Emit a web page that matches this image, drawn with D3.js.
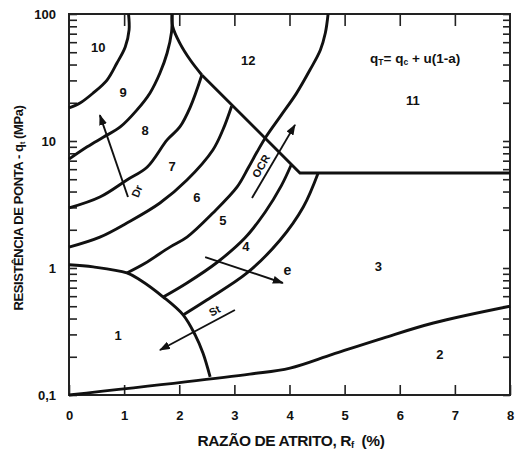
<!DOCTYPE html>
<html>
<head>
<meta charset="utf-8">
<script src="https://cdn.jsdelivr.net/npm/d3@7/dist/d3.min.js"></script>
<style>
  html, body { margin: 0; padding: 0; background: #fff; }
  svg { display: block; font-family: "Liberation Sans", Arial, Helvetica, sans-serif; font-weight: bold; }
</style>
</head>
<body>
<svg id="chart" width="518" height="452"></svg>
<script>
// Axis ticks
const rfTicks = [0, 1, 2, 3, 4, 5, 6, 7, 8];
const qtMajor = [0.1, 1, 10, 100];
const qtTickLabels = ["0,1", "1", "10", "100"];

// Zone boundaries, as [Rf (%), qt (MPa)]
const b10_9 = [[0, 18.2], [0.2, 19.9], [0.44, 23.9], [0.69, 30.2], [0.87, 41.1], [1.02, 55], [1.09, 75], [1.08, 100]];
const b9_8 = [[0, 7.2], [0.33, 9.0], [0.62, 10.7], [0.93, 12.9], [1.23, 17.5], [1.47, 23.9], [1.65, 34.3], [1.78, 49.3], [1.86, 72], [1.87, 100]];
const b12Cusp = [[1.87, 100], [1.88, 80], [2.01, 59], [2.20, 43.4], [2.41, 33.1]];
const b12Edge = [[2.41, 33.1], [4.19, 5.6], [8, 5.6]];
const b8_7 = [[0, 2.97], [0.56, 3.62], [1.05, 4.93], [1.42, 6.24], [1.78, 10.2], [2.01, 12.9], [2.20, 18.5], [2.41, 33.1]];
const b7_6 = [[0, 1.46], [0.56, 1.75], [1.05, 2.26], [1.65, 3.25], [2.14, 4.93], [2.61, 8.5], [2.79, 12.2], [2.95, 18.8]];
const b6_5 = [[1.05, 0.914], [1.38, 1.09], [1.83, 1.46], [2.14, 1.75], [2.61, 2.71], [3.05, 4.35], [3.25, 6.12], [3.41, 8.18], [3.58, 10.9], [3.85, 16.0], [4.12, 23.5], [4.37, 36.2], [4.56, 52.1], [4.65, 70.8], [4.70, 100]];
const b5_4 = [[1.71, 0.591], [2.14, 0.762], [2.69, 1.11], [3.19, 1.72], [3.56, 2.76], [3.85, 4.43], [4.03, 6.47]];
const b4_3 = [[2.07, 0.427], [2.50, 0.56], [3.23, 0.914], [3.83, 1.66], [4.25, 3.02], [4.52, 5.6]];
const b1 = [[0, 1.06], [0.44, 1.02], [1.05, 0.914], [1.29, 0.805], [1.71, 0.591], [2.07, 0.427], [2.29, 0.296], [2.43, 0.214], [2.56, 0.139]];
const b2 = [[0, 0.1], [3.28, 0.146], [4.01, 0.163], [4.79, 0.21], [5.70, 0.281], [6.61, 0.369], [8, 0.5]];

// Trend arrows, tail then head
const arrowDr = [[1.07, 3.62], [0.56, 16.0]];
const arrowOCR = [[3.32, 3.56], [4.10, 13.4]];
const arrowSt = [[3.01, 0.467], [1.65, 0.226]];
const arrowE = [[2.47, 1.22], [3.88, 0.762]];

// Zone numbers
const zoneNames = ["10", "9", "8", "7", "6", "5", "4", "3", "2", "1", "11", "12"];
const zoneRf = [0.53, 0.98, 1.38, 1.87, 2.32, 2.79, 3.21, 5.61, 6.73, 0.89, 6.24, 3.25];
const zoneQt = [54, 23.9, 12.0, 6.35, 3.56, 2.35, 1.49, 1.02, 0.207, 0.296, 21.0, 43.4];

// Arrow captions
const captionText = ["Dr", "OCR", "St", "e"];
const captionRf = [1.23, 3.48, 2.64, 3.96];
const captionQt = [4.03, 6.35, 0.462, 0.964];
const captionAngle = [-68, -60, -28, 0];

const svg = d3.select("#chart");
const x = d3.scaleLinear().domain([0, 8]).range([69, 510]);
const y = d3.scaleLog().domain([0.1, 100]).range([395, 14]);

// minor log ticks
const qtAll = [];
[0.1, 1, 10].forEach(d => { for (let k = 1; k <= 9; k++) qtAll.push(+(d * k).toPrecision(3)); });
qtAll.push(100);
const fmtQt = v => { const i = qtMajor.findIndex(m => Math.abs(m - v) < 1e-9); return i >= 0 ? qtTickLabels[i] : ""; };

const axG = svg.append("g");
axG.append("g").attr("transform", "translate(0,395)")
  .call(d3.axisBottom(x).tickValues(rfTicks).tickSizeInner(-10).tickSizeOuter(0).tickPadding(16).tickFormat(d3.format("d")));
axG.append("g").attr("transform", "translate(0,14)")
  .call(d3.axisTop(x).tickValues(rfTicks.slice(1, -1)).tickSizeInner(-12).tickSizeOuter(0).tickFormat(""));
axG.append("g").attr("transform", "translate(69,0)")
  .call(d3.axisLeft(y).tickValues(qtAll).tickSizeInner(-8).tickSizeOuter(0).tickPadding(13).tickFormat(fmtQt));
axG.append("g").attr("transform", "translate(510,0)")
  .call(d3.axisRight(y).tickValues(qtAll).tickSizeInner(-7).tickSizeOuter(0).tickFormat(""));
axG.selectAll(".domain").remove();
axG.selectAll(".tick line").attr("stroke", "#222").attr("stroke-width", 1.6);
axG.selectAll(".tick text").attr("fill", "#111").style("font-size", "13px").style("font-family", "'Liberation Sans', Arial, sans-serif").style("font-weight", "bold");

// frame
svg.append("rect").attr("x", x(0)).attr("y", y(100)).attr("width", x(8) - x(0)).attr("height", y(0.1) - y(100))
  .attr("fill", "none").attr("stroke", "#222").attr("stroke-width", 2);

const smooth = d3.line().x(d => x(d[0])).y(d => y(d[1])).curve(d3.curveCatmullRom.alpha(0.5));
const straight = d3.line().x(d => x(d[0])).y(d => y(d[1]));

const curves = [b10_9, b9_8, b12Cusp, b8_7, b7_6, b6_5, b5_4, b4_3, b1, b2];
svg.append("g").selectAll("path").data(curves).join("path")
  .attr("d", smooth).attr("fill", "none").attr("stroke", "#111").attr("stroke-width", 2.9).attr("stroke-linejoin", "round");
svg.append("path").attr("d", straight(b12Edge)).attr("fill", "none").attr("stroke", "#111").attr("stroke-width", 2.9).attr("stroke-linejoin", "miter");

// arrowheads
svg.append("defs").append("marker").attr("id", "head").attr("viewBox", "0 0 11 8").attr("refX", 10).attr("refY", 4)
  .attr("markerWidth", 11).attr("markerHeight", 8).attr("markerUnits", "userSpaceOnUse").attr("orient", "auto")
  .append("path").attr("d", "M0,0 L11,4 L0,8 Z").attr("fill", "#111");
svg.append("g").selectAll("path").data([arrowDr, arrowOCR, arrowSt, arrowE]).join("path")
  .attr("d", straight).attr("fill", "none").attr("stroke", "#111").attr("stroke-width", 1.9).attr("marker-end", "url(#head)");

// zone numbers
svg.append("g").selectAll("text").data(zoneNames).join("text")
  .attr("x", (d, i) => x(zoneRf[i])).attr("y", (d, i) => y(zoneQt[i]))
  .attr("text-anchor", "middle").attr("dominant-baseline", "central")
  .style("font-size", "13px").attr("fill", "#111").text(d => d);

// arrow captions
svg.append("g").selectAll("text").data(captionText).join("text")
  .attr("transform", (d, i) => `translate(${x(captionRf[i])},${y(captionQt[i])}) rotate(${captionAngle[i]})`)
  .attr("text-anchor", "middle").attr("dominant-baseline", "central")
  .style("font-size", (d, i) => i === 3 ? "14px" : "11px").attr("fill", "#111").text(d => d);

// formula
const f = svg.append("text").attr("x", x(6.28)).attr("y", y(45.1)).attr("text-anchor", "middle")
  .attr("dominant-baseline", "central").style("font-size", "13.5px").attr("fill", "#111");
f.append("tspan").text("q");
f.append("tspan").attr("dy", 4).style("font-size", "8.5px").text("T");
f.append("tspan").attr("dy", -4).text("= q");
f.append("tspan").attr("dy", 4).style("font-size", "8.5px").text("c");
f.append("tspan").attr("dy", -4).text(" + u(1-a)");

// axis titles
const xt = svg.append("text").attr("x", 291).attr("y", 440).attr("text-anchor", "middle")
  .attr("dominant-baseline", "central").style("font-size", "15.5px").style("letter-spacing", "-0.4px").attr("fill", "#111");
xt.append("tspan").text("RAZÃO DE ATRITO, R");
xt.append("tspan").attr("dy", 4).style("font-size", "9.5px").text("f");
xt.append("tspan").attr("dy", -4).text("\u00a0\u00a0(%)");

const yt = svg.append("text").attr("transform", "translate(18,208) rotate(-90)").attr("text-anchor", "middle")
  .attr("dominant-baseline", "central").style("font-size", "13px").style("letter-spacing", "-0.4px").attr("fill", "#111");
yt.append("tspan").text("RESISTÊNCIA DE PONTA - q");
yt.append("tspan").attr("dy", 4).style("font-size", "8px").text("t");
yt.append("tspan").attr("dy", -4).text(" (MPa)");
</script>
</body>
</html>
